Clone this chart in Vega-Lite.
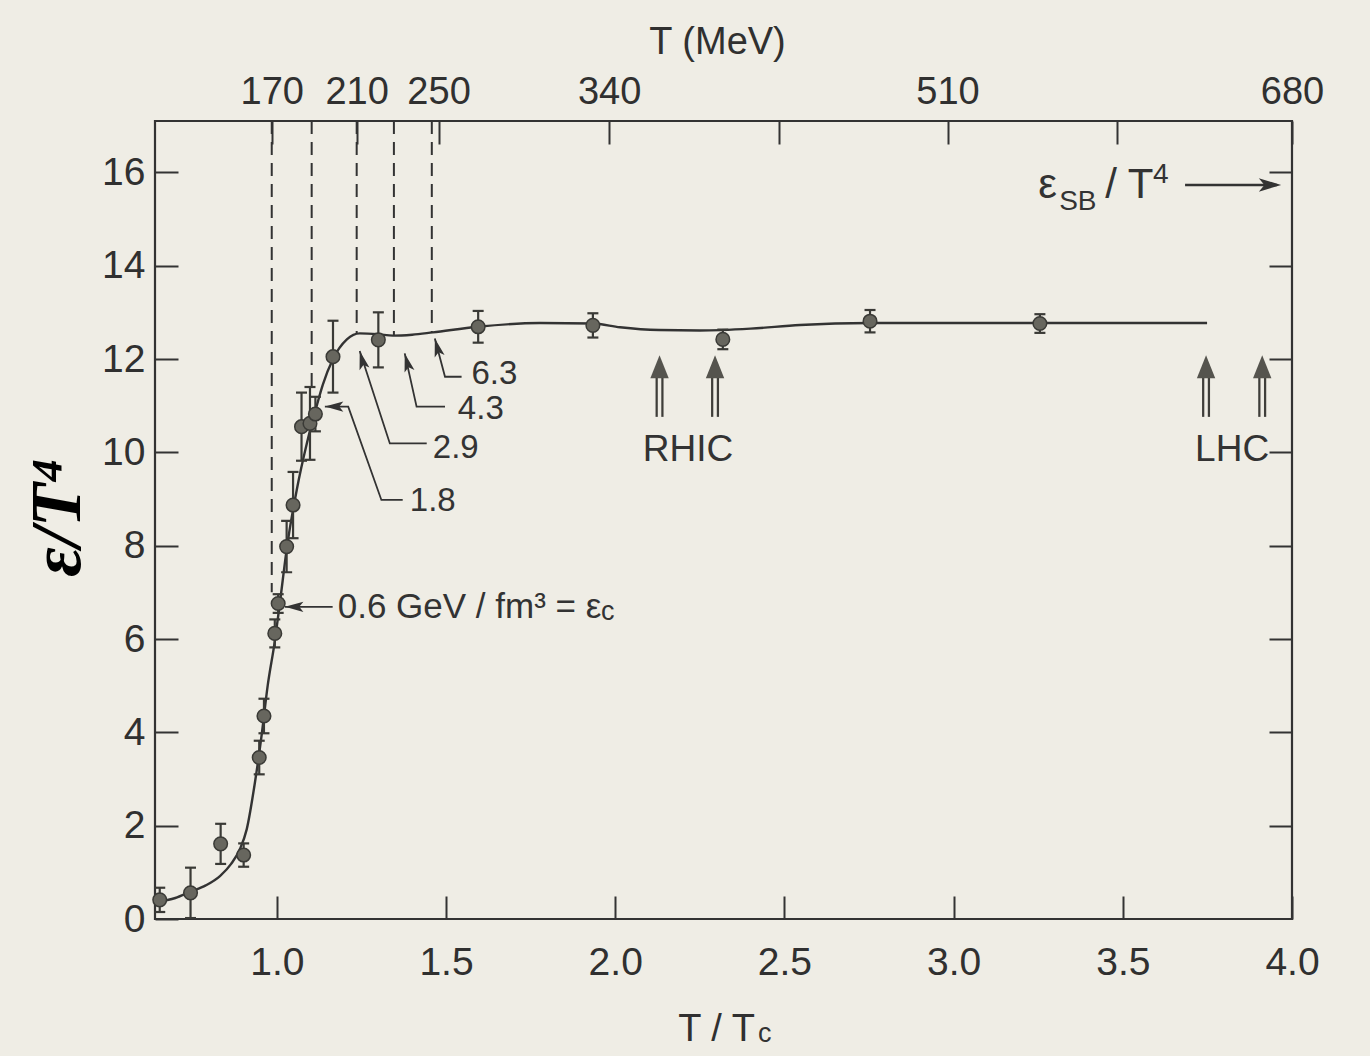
{
  "$schema": "https://vega.github.io/schema/vega-lite/v6.json",
  "width": 1137,
  "height": 798,
  "autosize": {"type": "none"},
  "padding": {"left": 155, "top": 121, "right": 78, "bottom": 137},
  "background": "#efede5",
  "config": {
    "view": {"stroke": "#333333", "strokeWidth": 2.2},
    "font": "Liberation Sans",
    "axis": {
      "domain": false, "grid": false, "tickColor": "#333333", "tickWidth": 2, "tickSize": -23,
      "labelColor": "#303030", "titleColor": "#303030", "labelFont": "Liberation Sans",
      "titleFont": "Liberation Sans", "titleFontWeight": "normal", "labelFlush": false, "labelOverlap": false
    }
  },
  "resolve": {"axis": {"x": "independent", "y": "independent"}},
  "datasets": {
    "curve": [
      {"x": 0.645, "y": 0.36}, {"x": 0.70, "y": 0.45}, {"x": 0.743, "y": 0.58}, {"x": 0.79, "y": 0.72},
      {"x": 0.832, "y": 0.92}, {"x": 0.865, "y": 1.18}, {"x": 0.891, "y": 1.50}, {"x": 0.911, "y": 1.92},
      {"x": 0.935, "y": 2.91}, {"x": 0.956, "y": 3.99}, {"x": 0.973, "y": 5.0}, {"x": 0.994, "y": 5.95},
      {"x": 1.009, "y": 6.77}, {"x": 1.03, "y": 7.97}, {"x": 1.059, "y": 9.2}, {"x": 1.089, "y": 10.2},
      {"x": 1.118, "y": 11.0}, {"x": 1.136, "y": 11.45}, {"x": 1.166, "y": 12.0}, {"x": 1.207, "y": 12.42},
      {"x": 1.245, "y": 12.55}, {"x": 1.30, "y": 12.53}, {"x": 1.343, "y": 12.50}, {"x": 1.40, "y": 12.52},
      {"x": 1.461, "y": 12.57}, {"x": 1.594, "y": 12.69}, {"x": 1.777, "y": 12.77}, {"x": 1.934, "y": 12.76},
      {"x": 2.014, "y": 12.68}, {"x": 2.13, "y": 12.62}, {"x": 2.25, "y": 12.61}, {"x": 2.40, "y": 12.65},
      {"x": 2.546, "y": 12.73}, {"x": 2.753, "y": 12.77}, {"x": 3.255, "y": 12.77}, {"x": 3.749, "y": 12.77}
    ],
    "pts": [
      {"x": 0.654, "y": 0.41, "lo": 0.15, "hi": 0.67},
      {"x": 0.745, "y": 0.56, "lo": 0.02, "hi": 1.10},
      {"x": 0.834, "y": 1.61, "lo": 1.18, "hi": 2.04},
      {"x": 0.902, "y": 1.37, "lo": 1.12, "hi": 1.62},
      {"x": 0.948, "y": 3.46, "lo": 3.10, "hi": 3.82},
      {"x": 0.962, "y": 4.35, "lo": 3.98, "hi": 4.72},
      {"x": 0.994, "y": 6.12, "lo": 5.82, "hi": 6.42},
      {"x": 1.004, "y": 6.76, "lo": 6.56, "hi": 6.96},
      {"x": 1.029, "y": 7.98, "lo": 7.43, "hi": 8.53},
      {"x": 1.048, "y": 8.87, "lo": 8.16, "hi": 9.58},
      {"x": 1.073, "y": 10.55, "lo": 9.82, "hi": 11.28},
      {"x": 1.098, "y": 10.62, "lo": 9.84, "hi": 11.40},
      {"x": 1.114, "y": 10.82, "lo": 10.45, "hi": 11.19},
      {"x": 1.166, "y": 12.05, "lo": 11.28, "hi": 12.82},
      {"x": 1.30, "y": 12.41, "lo": 11.82, "hi": 13.0},
      {"x": 1.595, "y": 12.69, "lo": 12.35, "hi": 13.03},
      {"x": 1.934, "y": 12.72, "lo": 12.46, "hi": 12.98},
      {"x": 2.318, "y": 12.42, "lo": 12.21, "hi": 12.63},
      {"x": 2.753, "y": 12.81, "lo": 12.57, "hi": 13.05},
      {"x": 3.255, "y": 12.76, "lo": 12.56, "hi": 12.96}
    ],
    "leaders": [
      {"id": "6.3", "i": 0, "x": 1.467, "y": 12.44}, {"id": "6.3", "i": 1, "x": 1.497, "y": 11.62}, {"id": "6.3", "i": 2, "x": 1.546, "y": 11.62},
      {"id": "4.3", "i": 0, "x": 1.378, "y": 12.12}, {"id": "4.3", "i": 1, "x": 1.413, "y": 10.98}, {"id": "4.3", "i": 2, "x": 1.497, "y": 10.98},
      {"id": "2.9", "i": 0, "x": 1.245, "y": 12.17}, {"id": "2.9", "i": 1, "x": 1.334, "y": 10.19}, {"id": "2.9", "i": 2, "x": 1.443, "y": 10.19},
      {"id": "1.8", "i": 0, "x": 1.142, "y": 10.98}, {"id": "1.8", "i": 1, "x": 1.211, "y": 10.98}, {"id": "1.8", "i": 2, "x": 1.309, "y": 8.98}, {"id": "1.8", "i": 3, "x": 1.372, "y": 8.98},
      {"id": "0.6", "i": 0, "x": 1.024, "y": 6.69}, {"id": "0.6", "i": 1, "x": 1.165, "y": 6.69}
    ],
    "beams": [
      {"name": "RHIC", "x": 2.131}, {"name": "RHIC", "x": 2.295},
      {"name": "LHC", "x": 3.746}, {"name": "LHC", "x": 3.912}
    ]
  },
  "layer": [
    {
      "data": {"name": "curve"},
      "mark": {"type": "line", "interpolate": "monotone", "color": "#333333", "strokeWidth": 2.4},
      "encoding": {
        "x": {"field": "x", "type": "quantitative", "scale": {"domain": [0.64, 4.0], "nice": false, "zero": false},
          "axis": {"orient": "bottom", "values": [1, 1.5, 2, 2.5, 3, 3.5, 4], "format": ".1f", "labelFontSize": 39, "labelPadding": 47,
            "title": "T / T", "titleFontSize": 38, "titleX": 561, "titleY": 121, "titleBaseline": "alphabetic", "titleAlign": "center"}},
        "y": {"field": "y", "type": "quantitative", "scale": {"domain": [0, 17.1], "nice": false, "zero": false},
          "axis": {"orient": "left", "values": [0, 2, 4, 6, 8, 10, 12, 14, 16], "labelFontSize": 39, "labelPadding": 33,
            "title": "ε/T⁴", "titleFont": "Liberation Serif", "titleFontSize": 72, "titleFontWeight": "bold", "titleFontStyle": "italic",
            "titleX": -76, "titleY": 396, "titleAngle": 270, "titleBaseline": "alphabetic", "titleAlign": "center", "titleColor": "#000000"}}
      }
    },
    {
      "data": {"values": [
        {"x": 0.985, "top": 17.1, "bottom": 7.0},
        {"x": 1.103, "top": 17.1, "bottom": 11.3},
        {"x": 1.236, "top": 17.1, "bottom": 12.55},
        {"x": 1.346, "top": 17.1, "bottom": 12.5},
        {"x": 1.458, "top": 17.1, "bottom": 12.56}
      ]},
      "mark": {"type": "rule", "strokeDash": [13, 8], "color": "#333333", "strokeWidth": 2},
      "encoding": {
        "x": {"field": "x", "type": "quantitative", "scale": {"domain": [0.64, 4.0], "nice": false, "zero": false},
          "axis": {"orient": "top", "values": [0.985, 1.236, 1.478, 1.982, 2.485, 2.982, 3.482, 4],
            "labelExpr": "datum.value == 0.985 ? '170' : datum.value == 1.236 ? '210' : datum.value == 1.478 ? '250' : datum.value == 1.982 ? '340' : datum.value == 2.982 ? '510' : datum.value == 4 ? '680' : ''",
            "labelFontSize": 38, "labelPadding": 33, "title": "T (MeV)", "titleFontSize": 38, "titleX": 562, "titleY": -68,
            "titleBaseline": "alphabetic", "titleAlign": "center"}},
        "y": {"field": "top", "type": "quantitative", "scale": {"domain": [0, 17.1], "nice": false, "zero": false},
          "axis": {"orient": "right", "values": [2, 4, 6, 8, 10, 12, 14, 16], "labels": false, "title": null}},
        "y2": {"field": "bottom"}
      }
    },
    {
      "data": {"name": "pts"},
      "mark": {"type": "rule", "color": "#3a3a36", "strokeWidth": 2.2},
      "encoding": {
        "x": {"field": "x", "type": "quantitative", "axis": null},
        "y": {"field": "lo", "type": "quantitative", "axis": null},
        "y2": {"field": "hi"}
      }
    },
    {
      "data": {"name": "pts"},
      "mark": {"type": "tick", "orient": "horizontal", "size": 11, "thickness": 2.2, "color": "#3a3a36", "opacity": 1},
      "encoding": {
        "x": {"field": "x", "type": "quantitative", "axis": null},
        "y": {"field": "lo", "type": "quantitative", "axis": null}
      }
    },
    {
      "data": {"name": "pts"},
      "mark": {"type": "tick", "orient": "horizontal", "size": 11, "thickness": 2.2, "color": "#3a3a36", "opacity": 1},
      "encoding": {
        "x": {"field": "x", "type": "quantitative", "axis": null},
        "y": {"field": "hi", "type": "quantitative", "axis": null}
      }
    },
    {
      "data": {"name": "pts"},
      "mark": {"type": "point", "shape": "circle", "filled": true, "size": 185, "color": "#67665e", "stroke": "#3a3a36", "strokeWidth": 1.5, "opacity": 1},
      "encoding": {
        "x": {"field": "x", "type": "quantitative", "axis": null},
        "y": {"field": "y", "type": "quantitative", "axis": null}
      }
    },
    {
      "data": {"name": "leaders"},
      "mark": {"type": "line", "color": "#333333", "strokeWidth": 1.8},
      "encoding": {
        "x": {"field": "x", "type": "quantitative", "axis": null},
        "y": {"field": "y", "type": "quantitative", "axis": null},
        "detail": {"field": "id"},
        "order": {"field": "i"}
      }
    },
    {
      "data": {"values": [{"x": 3.684, "y": 15.73}, {"x": 3.955, "y": 15.73}]},
      "mark": {"type": "line", "color": "#333333", "strokeWidth": 2.6},
      "encoding": {
        "x": {"field": "x", "type": "quantitative", "axis": null},
        "y": {"field": "y", "type": "quantitative", "axis": null}
      }
    },
    {
      "data": {"values": [{"x": 1.467, "y": 12.44}, {"x": 1.378, "y": 12.12}, {"x": 1.245, "y": 12.17}]},
      "mark": {"type": "point", "shape": "M0,0L-0.5,1.8L0,1.4L0.5,1.8Z", "size": 420, "filled": true, "color": "#333333", "opacity": 1, "angle": 345},
      "encoding": {
        "x": {"field": "x", "type": "quantitative", "axis": null},
        "y": {"field": "y", "type": "quantitative", "axis": null}
      }
    },
    {
      "data": {"values": [{"x": 1.142, "y": 10.98}, {"x": 1.024, "y": 6.69}]},
      "mark": {"type": "point", "shape": "M0,0L-0.5,1.8L0,1.4L0.5,1.8Z", "size": 420, "filled": true, "color": "#333333", "opacity": 1, "angle": 270},
      "encoding": {
        "x": {"field": "x", "type": "quantitative", "axis": null},
        "y": {"field": "y", "type": "quantitative", "axis": null}
      }
    },
    {
      "data": {"values": [{"x": 3.968, "y": 15.73}]},
      "mark": {"type": "point", "shape": "M0,0L-0.6,2L0,1.5L0.6,2Z", "size": 500, "filled": true, "color": "#333333", "opacity": 1, "angle": 90},
      "encoding": {
        "x": {"field": "x", "type": "quantitative", "axis": null},
        "y": {"field": "y", "type": "quantitative", "axis": null}
      }
    },
    {
      "data": {"name": "beams"},
      "mark": {"type": "rule", "color": "#3f3e3a", "strokeWidth": 8},
      "encoding": {
        "x": {"field": "x", "type": "quantitative", "axis": null},
        "y": {"datum": 11.62, "type": "quantitative", "axis": null},
        "y2": {"datum": 10.76}
      }
    },
    {
      "data": {"name": "beams"},
      "mark": {"type": "rule", "color": "#efede5", "strokeWidth": 3.5},
      "encoding": {
        "x": {"field": "x", "type": "quantitative", "axis": null},
        "y": {"datum": 11.62, "type": "quantitative", "axis": null},
        "y2": {"datum": 10.70}
      }
    },
    {
      "data": {"name": "beams"},
      "mark": {"type": "point", "shape": "M0,0L-0.8,2L0.8,2Z", "size": 529, "filled": true, "color": "#55544e", "opacity": 1},
      "encoding": {
        "x": {"field": "x", "type": "quantitative", "axis": null},
        "y": {"datum": 12.08, "type": "quantitative", "axis": null}
      }
    },
    {
      "data": {"values": [
        {"t": "6.3", "x": 1.575, "y": 11.68},
        {"t": "4.3", "x": 1.535, "y": 10.93},
        {"t": "2.9", "x": 1.461, "y": 10.10},
        {"t": "1.8", "x": 1.393, "y": 8.95}
      ]},
      "mark": {"type": "text", "align": "left", "baseline": "middle", "fontSize": 33, "color": "#333333"},
      "encoding": {
        "x": {"field": "x", "type": "quantitative", "axis": null},
        "y": {"field": "y", "type": "quantitative", "axis": null},
        "text": {"field": "t"}
      }
    },
    {
      "data": {"values": [{"t": "0.6 GeV / fm³ = ε", "x": 1.18, "y": 6.69}]},
      "mark": {"type": "text", "align": "left", "baseline": "middle", "fontSize": 35, "color": "#333333"},
      "encoding": {
        "x": {"field": "x", "type": "quantitative", "axis": null},
        "y": {"field": "y", "type": "quantitative", "axis": null},
        "text": {"field": "t"}
      }
    },
    {
      "data": {"values": [{"t": "c", "x": 1.958, "y": 6.4}, {"t": "c", "x": 2.422, "y": -2.64}]},
      "mark": {"type": "text", "align": "left", "baseline": "alphabetic", "fontSize": 27, "color": "#333333"},
      "encoding": {
        "x": {"field": "x", "type": "quantitative", "axis": null},
        "y": {"field": "y", "type": "quantitative", "axis": null},
        "text": {"field": "t"}
      }
    },
    {
      "data": {"values": [{"t": "RHIC", "x": 2.215, "y": 10.05}, {"t": "LHC", "x": 3.823, "y": 10.05}]},
      "mark": {"type": "text", "align": "center", "baseline": "middle", "fontSize": 37, "color": "#333333"},
      "encoding": {
        "x": {"field": "x", "type": "quantitative", "axis": null},
        "y": {"field": "y", "type": "quantitative", "axis": null},
        "text": {"field": "t"}
      }
    },
    {
      "data": {"values": [{"t": "ε", "x": 3.25, "y": 15.45}, {"t": "/ T", "x": 3.448, "y": 15.45}]},
      "mark": {"type": "text", "align": "left", "baseline": "alphabetic", "fontSize": 42, "color": "#333333"},
      "encoding": {
        "x": {"field": "x", "type": "quantitative", "axis": null},
        "y": {"field": "y", "type": "quantitative", "axis": null},
        "text": {"field": "t"}
      }
    },
    {
      "data": {"values": [{"t": "SB", "x": 3.312, "y": 15.2}, {"t": "4", "x": 3.589, "y": 15.78}]},
      "mark": {"type": "text", "align": "left", "baseline": "alphabetic", "fontSize": 28, "color": "#333333"},
      "encoding": {
        "x": {"field": "x", "type": "quantitative", "axis": null},
        "y": {"field": "y", "type": "quantitative", "axis": null},
        "text": {"field": "t"}
      }
    }
  ]
}
